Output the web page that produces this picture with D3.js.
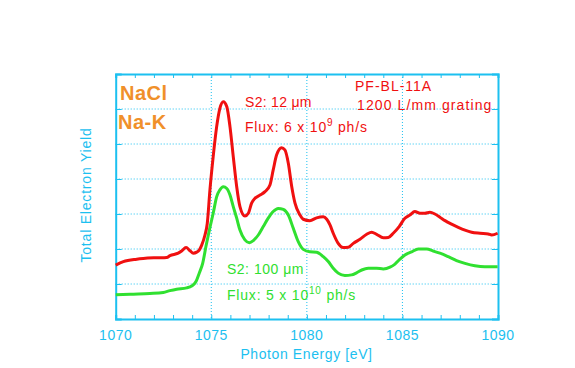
<!DOCTYPE html>
<html><head><meta charset="utf-8">
<script src="https://cdn.jsdelivr.net/npm/d3@7"></script>
<style>body{margin:0;background:#fff}svg{display:block}</style>
</head><body><svg id="c" width="575" height="368"></svg>
<script>
const xTicks = [1070, 1075, 1080, 1085, 1090];
const xMinor = d3.range(1070, 1091, 1);
const yGrid = [1, 2, 3, 4, 5, 6];

const redE = [1070.0,1070.4,1071.1,1071.44,1072.14,1072.67,1072.84,1073.27,1073.45,1073.68,1073.89,1074.06,1074.24,1074.37,1074.5,1074.67,1074.79,1074.93,1075.1,1075.28,1075.45,1075.63,1075.81,1075.98,1076.15,1076.33,1076.5,1076.76,1076.94,1077.11,1077.29,1077.55,1077.81,1078.07,1078.24,1078.42,1078.68,1078.85,1079.03,1079.21,1079.38,1079.64,1079.81,1080.16,1080.51,1080.86,1081.04,1081.21,1081.38,1081.64,1081.9,1082.17,1082.43,1082.78,1083.13,1083.39,1083.65,1084.0,1084.26,1084.52,1084.83,1085.13,1085.39,1085.65,1085.92,1086.18,1086.44,1086.7,1086.96,1087.23,1087.57,1087.92,1088.27,1088.62,1089.06,1089.49,1089.67,1089.98];
const redY = [1.54,1.64,1.71,1.73,1.75,1.76,1.81,1.88,1.94,2.04,1.95,1.88,1.91,1.97,2.11,2.40,2.73,3.69,4.64,5.49,6.02,6.21,6.07,5.49,4.64,3.78,3.21,2.94,3.02,3.31,3.45,3.54,3.64,3.83,4.26,4.69,4.89,4.83,4.45,3.78,3.31,2.97,2.85,2.81,2.89,2.92,2.85,2.69,2.45,2.16,2.04,2.05,2.16,2.28,2.42,2.48,2.42,2.32,2.33,2.45,2.64,2.88,2.97,3.07,3.02,3.02,3.05,3.00,2.91,2.81,2.71,2.62,2.54,2.48,2.45,2.43,2.40,2.45];

const greenE = [1070.0,1070.75,1071.79,1072.49,1072.84,1073.19,1073.71,1073.97,1074.2,1074.37,1074.55,1074.72,1074.9,1075.1,1075.28,1075.45,1075.63,1075.81,1075.98,1076.15,1076.33,1076.5,1076.76,1076.99,1077.2,1077.46,1077.72,1077.98,1078.24,1078.5,1078.77,1079.03,1079.29,1079.55,1079.81,1080.16,1080.51,1080.86,1081.12,1081.38,1081.64,1081.99,1082.34,1082.6,1082.87,1083.21,1083.65,1084.0,1084.35,1084.61,1084.87,1085.13,1085.48,1085.83,1086.27,1086.61,1086.96,1087.4,1087.83,1088.27,1088.79,1089.31,1089.98];
const greenY = [0.69,0.71,0.73,0.76,0.81,0.85,0.89,0.94,1.07,1.31,1.59,2.07,2.54,3.02,3.49,3.69,3.78,3.73,3.54,3.21,2.88,2.54,2.26,2.18,2.24,2.40,2.64,2.88,3.07,3.16,3.13,2.97,2.59,2.21,1.99,1.92,1.91,1.78,1.64,1.45,1.31,1.24,1.26,1.32,1.40,1.45,1.45,1.43,1.48,1.57,1.71,1.83,1.92,2.00,2.00,1.94,1.88,1.78,1.67,1.59,1.52,1.49,1.49];

const axisColor = "#1cc0f0";
const red = "#f01010";
const green = "#30e030";
const orange = "#f0902a";
const font = "'Liberation Sans', Arial, sans-serif";

const L = 115.7, R = 498, T = 74, B = 319;
const x = d3.scaleLinear().domain([1070, 1090]).range([L, R]);
const y = d3.scaleLinear().domain([0, 7]).range([B, T]);

const svg = d3.select("#c");

// grid
const g = svg.append("g");
g.selectAll(".vg").data([1075, 1080, 1085]).join("line")
  .attr("x1", d => x(d)).attr("x2", d => x(d)).attr("y1", T).attr("y2", B)
  .attr("stroke", axisColor).attr("stroke-width", 1).attr("stroke-dasharray", "1,2");
g.selectAll(".hg").data(yGrid).join("line")
  .attr("x1", L).attr("x2", R).attr("y1", d => y(d)).attr("y2", d => y(d))
  .attr("stroke", axisColor).attr("stroke-width", 1).attr("stroke-dasharray", "1,2");

// axes via d3
const axB = svg.append("g").attr("transform", `translate(0,${B})`)
  .call(d3.axisBottom(x).tickValues(xMinor).tickSize(-4).tickFormat(""));
const axT = svg.append("g").attr("transform", `translate(0,${T})`)
  .call(d3.axisTop(x).tickValues(xMinor).tickSize(-4).tickFormat(""));
const axL = svg.append("g").attr("transform", `translate(${L},0)`)
  .call(d3.axisLeft(y).tickValues(yGrid).tickSize(-6).tickFormat(""));
const axR = svg.append("g").attr("transform", `translate(${R},0)`)
  .call(d3.axisRight(y).tickValues(yGrid).tickSize(-6).tickFormat(""));
[axB, axT, axL, axR].forEach(a => {
  a.selectAll("path").attr("stroke", axisColor).attr("stroke-width", 2);
  a.selectAll("line").attr("stroke", axisColor).attr("stroke-width", 1);
});

// tick labels
svg.append("g").selectAll("text").data(xTicks).join("text")
  .attr("x", d => x(d)).attr("y", 339.5).attr("text-anchor", "middle")
  .attr("font-family", font).attr("font-size", 14).attr("letter-spacing", "0.5px")
  .attr("fill", axisColor).text(d => d);

svg.append("text").attr("x", 306.5).attr("y", 358.5).attr("text-anchor", "middle")
  .attr("font-family", font).attr("font-size", 14).attr("letter-spacing", "0.6px")
  .attr("fill", axisColor).text("Photon Energy [eV]");

svg.append("text").attr("transform", "translate(90.5,195) rotate(-90)").attr("text-anchor", "middle")
  .attr("font-family", font).attr("font-size", 14).attr("letter-spacing", "0.8px")
  .attr("fill", axisColor).text("Total Electron Yield");

// curves
const line = d3.line().x(d => x(d[0])).y(d => y(d[1])).curve(d3.curveMonotoneX);
svg.append("path").datum(greenE.map((e, i) => [e, greenY[i]]))
  .attr("d", line).attr("fill", "none").attr("stroke", green).attr("stroke-width", 3);
svg.append("path").datum(redE.map((e, i) => [e, redY[i]]))
  .attr("d", line).attr("fill", "none").attr("stroke", red).attr("stroke-width", 3);

// labels
function txt(xp, yp, color, size, parts, opts = {}) {
  const t = svg.append("text").attr("x", xp).attr("y", yp)
    .attr("font-family", font).attr("font-size", size).attr("fill", color)
    .attr("letter-spacing", opts.ls || "1px");
  if (opts.bold) t.attr("font-weight", "bold");
  parts.forEach(p => {
    if (typeof p === "string") t.append("tspan").text(p);
    else t.append("tspan").attr("dy", p.dy).attr("font-size", p.size).text(p.t);
  });
  return t;
}
txt(120, 100, orange, 20, ["NaCl"], { bold: true, ls: "0.5px" });
txt(118, 128.5, orange, 20, ["Na-K"], { bold: true, ls: "0.5px" });

txt(245, 107, red, 14, ["S2: 12 \u03bcm"], { ls: "0.3px" });
txt(245, 132, red, 14, ["Flux: 6 x 10", { t: "9", dy: -6, size: 10 }, { t: " ph/s", dy: 6, size: 14 }], { ls: "0.8px" });
txt(355, 91, red, 14, ["PF-BL-11A"], { ls: "1px" });
txt(357, 110, red, 14, ["1200 L/mm grating"], { ls: "1.1px" });

txt(227, 274, green, 14, ["S2: 100 \u03bcm"], { ls: "0.5px" });
txt(227, 300, green, 14, ["Flux: 5 x 10", { t: "10", dy: -6, size: 10 }, { t: " ph/s", dy: 6, size: 14 }], { ls: "0.8px" });
</script></body></html>
